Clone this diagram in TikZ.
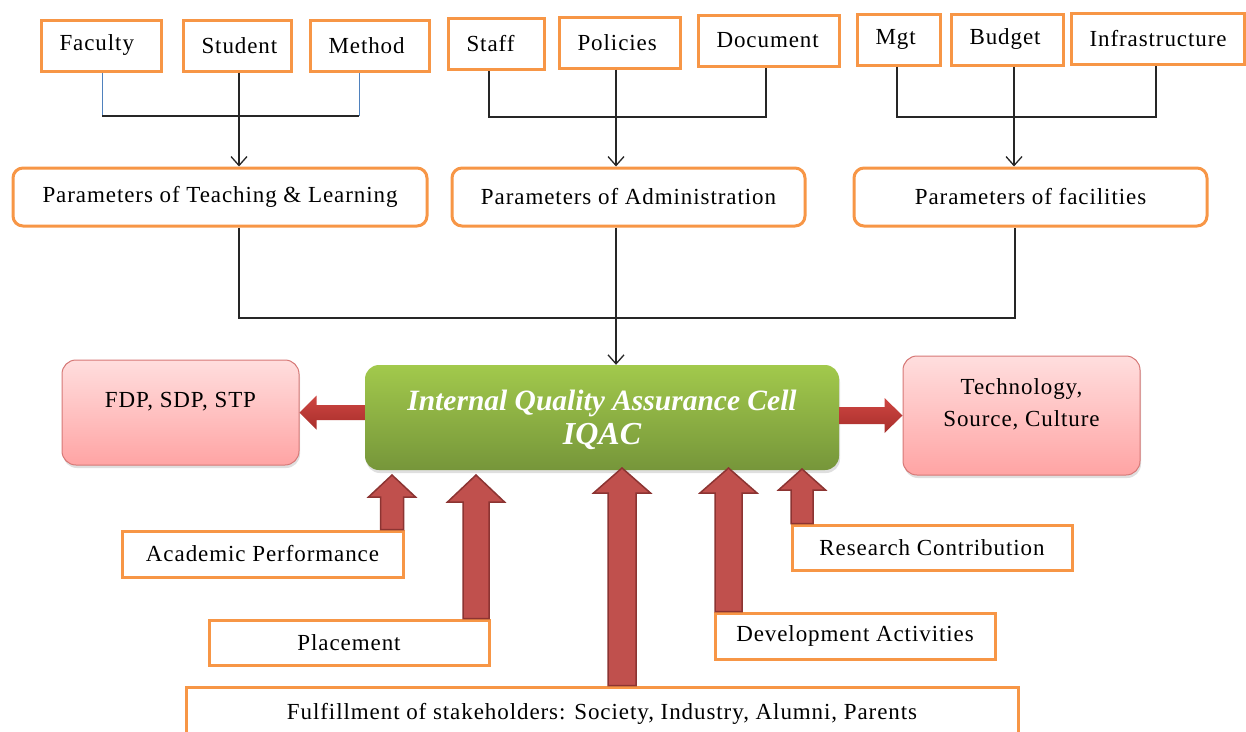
\documentclass[tikz,border=0pt]{standalone}
\usepackage{fontspec}
\setmainfont{Liberation Serif}[LetterSpace=4]
\newfontfamily\iqacfont{Liberation Serif}
\usetikzlibrary{arrows.meta,calc,shadows}
\definecolor{orng}{RGB}{247,150,70}
\definecolor{blueln}{RGB}{79,129,189}
\definecolor{grtop}{RGB}{162,201,76}
\definecolor{grbot}{RGB}{118,150,58}
\definecolor{pktop}{RGB}{255,222,222}
\definecolor{pkbot}{RGB}{255,164,164}
\definecolor{pkdraw}{RGB}{214,120,118}
\definecolor{redfill}{RGB}{192,80,77}
\definecolor{reddraw}{RGB}{140,52,50}
\definecolor{redtop}{RGB}{206,70,66}
\definecolor{redbot}{RGB}{168,46,43}
\newcommand\blockarrow[6][]{%
  \coordinate (ba-s) at #2; \coordinate (ba-t) at #3;
  \coordinate (ba-b) at ($(ba-t)!#6!(ba-s)$);
  \path[#1] ($(ba-s)!#4!90:(ba-t)$) -- ($(ba-b)!#4!90:(ba-t)$) -- ($(ba-b)!#5!90:(ba-t)$) -- (ba-t)
    -- ($(ba-b)!#5!-90:(ba-t)$) -- ($(ba-b)!#4!-90:(ba-t)$) -- ($(ba-s)!#4!-90:(ba-t)$) -- cycle;}
\newcommand\lb[2]{\makebox[#1][l]{#2}}
\tikzset{
  txt/.style={font=\fontsize{23}{27}\selectfont},
  tbox/.style={txt, draw=orng, line width=3pt, fill=white, inner xsep=18pt, inner ysep=0pt,
    minimum height=51pt, anchor=west},
  pbox/.style={txt, draw=orng, line width=3pt, fill=white, rounded corners=10pt, minimum height=58pt},
  bbox/.style={txt, draw=orng, line width=3pt, fill=white, minimum height=46pt},
  pkbox/.style={draw=pkdraw, line width=1pt, rounded corners=14pt, top color=pktop, bottom color=pkbot,
    drop shadow={shadow xshift=1pt, shadow yshift=-3pt, opacity=0.25}},
  iqacbox/.style={rounded corners=14pt, top color=grtop, bottom color=grbot, text=white, align=center,
    font=\iqacfont\bfseries\itshape\fontsize{29.5}{34}\selectfont,
    drop shadow={shadow xshift=1pt, shadow yshift=-3pt, opacity=0.25}},
  conn/.style={line width=1.3pt, draw=black!85},
  blueconn/.style={line width=1pt, draw=blueln},
  arr/.style={-{Straight Barb[length=9pt,width=16pt]}},
  uparr/.style={fill=redfill, draw=reddraw, line width=1.5pt, line join=miter},
  sidearr/.style={top color=redtop, bottom color=redbot},
}
\begin{document}
\begin{tikzpicture}[x=1pt,y=-1pt]
\useasboundingbox (0,0) rectangle (1246,731);
% top row
\node[tbox] (faculty) at (40,45.5) {\lb{84pt}{Faculty}};
\node[tbox] (student) at (182,45.5) {\lb{72pt}{Student}};
\node[tbox] (method) at (309,46) {\lb{83pt}{Method}};
\node[tbox] (staff) at (447,44) {\lb{60pt}{Staff}};
\node[tbox] (policies) at (558,42.5) {\lb{85pt}{Policies}};
\node[tbox] (document) at (697,40.5) {\lb{105pt}{Document}};
\node[tbox] (mgt) at (856,39.5) {\lb{47pt}{Mgt}};
\node[tbox] (budget) at (950,39.5) {\lb{76pt}{Budget}};
\node[tbox] (infra) at (1070,39) {\lb{137pt}{Infrastructure}};
% parameter boxes
\node[pbox, minimum width=414pt] (teach) at (220,197) {Parameters of Teaching \& Learning};
\node[pbox, minimum width=353pt] (admin) at (628.5,197) {Parameters of Administration};
\node[pbox, minimum width=353pt] (facil) at (1030.5,197) {Parameters of facilities};
% centre
\node[iqacbox, minimum width=474pt, minimum height=105pt, text depth=0pt] (iqac) at (602,417.5)
  {Internal Quality Assurance Cell\\{\fontsize{32}{34}\selectfont IQAC}};
\node[pkbox, minimum width=237pt, minimum height=105pt,
  label={[txt, yshift=10.5pt]center:{FDP, SDP, STP}}] (fdp) at (180.5,412.5) {};
\node[pkbox, minimum width=237pt, minimum height=119pt,
  label={[font=\fontsize{23}{32}\selectfont, align=center, yshift=11.5pt]center:{Technology,\\Source, Culture}}] (tech) at (1021.5,415.5) {};
% bottom boxes
\node[bbox, minimum width=281pt] (acad) at (262.5,554) {Academic Performance};
\node[bbox, minimum width=280pt, minimum height=45pt] (place) at (349,642.5) {Placement};
\node[bbox, minimum width=832pt, minimum height=53pt] (fulfil) at (602,713.5) {Fulfillment of stakeholders: Society, Industry, Alumni, Parents};
\node[bbox, minimum width=280pt] (devel) at (855,636) {Development Activities};
\node[bbox, minimum width=280pt, minimum height=45pt] (research) at (932,547.5) {Research Contribution};
% top connectors
\coordinate (a1) at (102,116); \coordinate (b1) at (239,116); \coordinate (c1) at (359,116);
\draw[blueconn] (a1 |- faculty.south) -- (a1);
\draw[blueconn] (c1 |- method.south) -- (c1);
\draw[conn] (a1) -- (c1);
\draw[conn, arr] (b1 |- student.south) -- (b1 |- teach.north);
\coordinate (a2) at (489,117); \coordinate (b2) at (616,117); \coordinate (c2) at (766,117);
\draw[conn] (a2 |- staff.south) -- (a2) -- (c2) -- (c2 |- document.south);
\draw[conn, arr] (b2 |- policies.south) -- (b2 |- admin.north);
\coordinate (a3) at (897,117); \coordinate (b3) at (1014,117); \coordinate (c3) at (1156,117);
\draw[conn] (a3 |- mgt.south) -- (a3) -- (c3) -- (c3 |- infra.south);
\draw[conn, arr] (b3 |- budget.south) -- (b3 |- facil.north);
% to IQAC
\coordinate (h1) at (239,318); \coordinate (h2) at (616,318); \coordinate (h3) at (1015,318);
\draw[conn] (h1 |- teach.south) -- (h1) -- (h3) -- (h3 |- facil.south);
\draw[conn, arr] (h2 |- admin.south) -- (h2 |- iqac.north);
% side block arrows
\blockarrow[sidearr]{(fdp.east -| iqac.west)}{(fdp.east)}{7.5pt}{17pt}{17pt}
\blockarrow[sidearr]{(tech.west -| iqac.east)}{(tech.west)}{8.5pt}{17.5pt}{18pt}
% upward block arrows
\coordinate (t1) at (392,475); \coordinate (t2) at (476,475); \coordinate (t3) at (622,468);
\coordinate (t4) at (728.5,468); \coordinate (t5) at (802,469);
\blockarrow[uparr]{(t1 |- acad.north)}{(t1)}{11.5pt}{23.5pt}{22pt}
\blockarrow[uparr]{(t2 |- place.north)}{(t2)}{13pt}{28.5pt}{27pt}
\blockarrow[uparr]{(t3 |- fulfil.north)}{(t3)}{14pt}{28.5pt}{25pt}
\blockarrow[uparr]{(t4 |- devel.north)}{(t4)}{13.5pt}{28.5pt}{25pt}
\blockarrow[uparr]{(t5 |- research.north)}{(t5)}{11pt}{23.5pt}{21pt}
\end{tikzpicture}
\end{document}
